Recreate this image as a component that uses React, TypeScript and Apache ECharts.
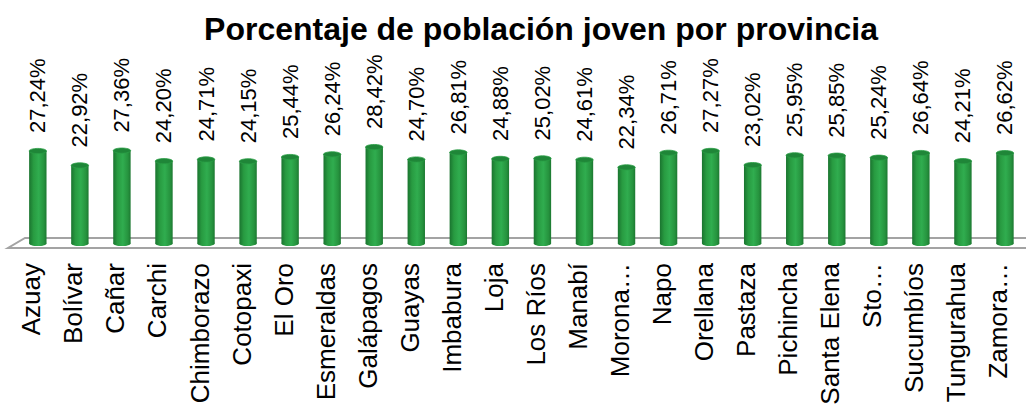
import React, { useEffect, useRef } from "react";
import * as echarts from "echarts";

const categories = [
  "Azuay", "Bolívar", "Cañar", "Carchi", "Chimborazo", "Cotopaxi", "El Oro",
  "Esmeraldas", "Galápagos", "Guayas", "Imbabura", "Loja", "Los Ríos", "Manabí",
  "Morona Santiago", "Napo", "Orellana", "Pastaza", "Pichincha", "Santa Elena",
  "Sto. Domingo de los Tsáchilas", "Sucumbíos", "Tungurahua", "Zamora Chinchipe",
];

const values = [
  27.24, 22.92, 27.36, 24.2, 24.71, 24.15, 25.44, 26.24, 28.42, 24.7, 26.81, 24.88,
  25.02, 24.61, 22.34, 26.71, 27.27, 23.02, 25.95, 25.85, 25.24, 26.64, 24.21, 26.62,
];

const titleText = "Porcentaje de población joven por provincia";

const FONT = "'Liberation Sans', Arial, sans-serif";

const fmt = (v: number) => v.toFixed(2).replace(".", ",") + "%";
const shortName = (n: string) => (n.length > 14 ? n.split(/[ .]/)[0] + "…" : n);

export default function App() {
  const ref = useRef<HTMLDivElement>(null);
  useEffect(() => {
    if (!ref.current) return;
    const chart = echarts.init(ref.current, undefined, { renderer: "svg" });
    const bodyGrad = () =>
      new echarts.graphic.LinearGradient(0, 0, 1, 0, [
        { offset: 0, color: "#1a742f" },
        { offset: 0.25, color: "#289b41" },
        { offset: 0.55, color: "#30ad4f" },
        { offset: 0.85, color: "#26933e" },
        { offset: 1, color: "#1c7831" },
      ]);
    chart.setOption({
      animation: false,
      backgroundColor: "#ffffff",
      title: {
        text: titleText,
        left: 536,
        top: 8,
        textAlign: "center",
        textStyle: { fontFamily: FONT, fontSize: 32, fontWeight: "bold", color: "#000" },
      },
      grid: { left: 16.8, right: -6.8, top: 141.8, bottom: 164 },
      xAxis: {
        type: "category",
        data: categories,
        axisLine: { show: false },
        axisTick: { show: false },
        axisLabel: { show: false },
      },
      yAxis: { type: "value", min: 0, max: 30, show: false },
      graphic: [
        {
          type: "polyline",
          z: 0,
          shape: { points: [[1026, 238], [25, 238], [8, 248], [1026, 248]] },
          style: { stroke: "#a3a3a3", lineWidth: 2, fill: "none" },
        },
      ],
      series: [
        {
          type: "custom",
          z: 5,
          data: values.map((v, i) => [i, v]),
          renderItem: (params: any, api: any) => {
            const i = api.value(0);
            const v = api.value(1);
            const top = api.coord([i, v]);
            const base = api.coord([i, 0]);
            const w = 17.4;
            const rx = w / 2;
            const ry = 2.6;
            const cx = top[0];
            const baseY = base[1] + 1.5;
            return {
              type: "group",
              children: [
                {
                  type: "ellipse",
                  shape: { cx, cy: baseY, rx, ry },
                  style: { fill: bodyGrad() },
                },
                {
                  type: "rect",
                  shape: { x: cx - rx, y: top[1], width: w, height: baseY - top[1] },
                  style: { fill: bodyGrad() },
                },
                {
                  type: "ellipse",
                  shape: { cx, cy: top[1], rx, ry },
                  style: { fill: "#1f8638", stroke: "#2a9e45", lineWidth: 0.8 },
                },
                {
                  type: "text",
                  x: cx,
                  y: top[1] - 18,
                  rotation: Math.PI / 2,
                  style: {
                    text: fmt(v),
                    fill: "#000",
                    fontSize: 22,
                    fontFamily: FONT,
                    align: "left",
                    verticalAlign: "middle",
                  },
                },
                {
                  type: "text",
                  x: cx - 6.5,
                  y: base[1] + 21,
                  rotation: Math.PI / 2,
                  style: {
                    text: shortName(categories[i]),
                    fill: "#000",
                    fontSize: 26,
                    fontFamily: FONT,
                    align: "right",
                    verticalAlign: "middle",
                  },
                },
              ],
            };
          },
        },
      ],
    });
    return () => chart.dispose();
  }, []);
  return (
    <div
      ref={ref}
      style={{ position: "absolute", left: 0, top: 0, width: 1026, height: 406 }}
    />
  );
}
